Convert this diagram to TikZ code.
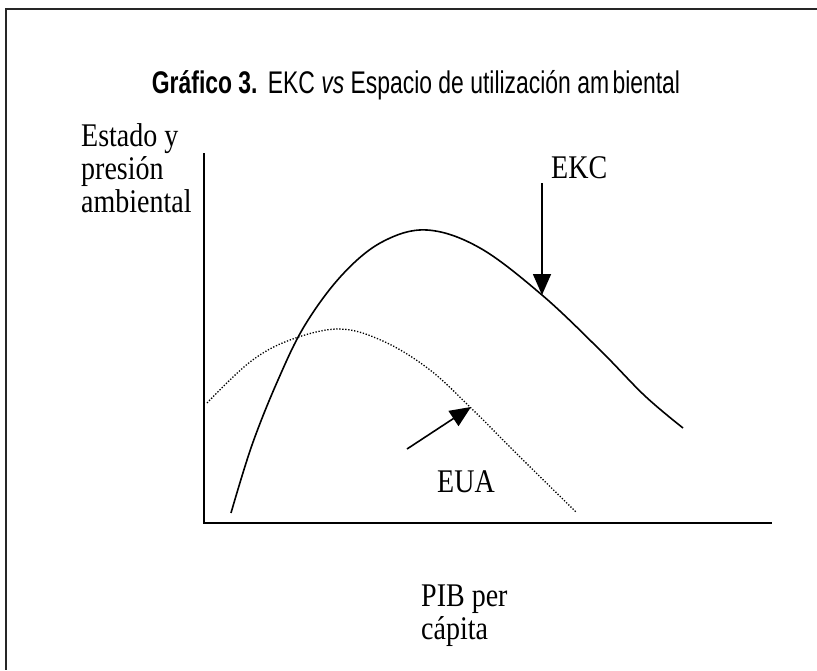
\documentclass[tikz,border=0pt]{standalone}
\usepackage{fontspec}
\setmainfont{Liberation Serif}
\newfontfamily\titlefont{Liberation Sans}
\usetikzlibrary{arrows.meta}
\newcommand{\tall}[1]{\scalebox{1}[1.18]{#1}}
\tikzset{
  frameline/.style={line width=1.6pt, black!85},
  axisline/.style={line width=1.6pt},
  ekcline/.style={line width=1.6pt},
  eualine/.style={line width=1.3pt, dash pattern=on 1.3pt off 1.7pt},
  pointer/.style={line width=1.6pt, -{Triangle[length=21pt,width=18pt]}},
  lbl/.style={inner sep=0pt, font=\fontsize{28}{32}\selectfont},
}
\begin{document}
\begin{tikzpicture}[x=1pt,y=-1pt]
\useasboundingbox (0,0) rectangle (817,670);
% frame (open on right and bottom)
\draw[frameline] (817,9) -- (6,9) -- (6,670);
% title
\node[inner sep=0pt, anchor=base] (title) at (416,93)
  {\scalebox{0.79}[1.08]{\titlefont\fontsize{29}{32}\selectfont\textbf{Gráfico 3.}\hspace{0.45em}EKC \textit{vs} Espacio de utilización am\hspace{0.15em}biental}};
% axes
\coordinate (ytop) at (204,153);
\coordinate (orig) at (204,523);
\coordinate (xend) at (772,523);
\draw[axisline] (ytop) -- (orig) -- (xend);
% axis labels
\node[lbl, anchor=base west] (ylab1) at (81,146) {\tall{Estado y}};
\node[lbl, anchor=base west] (ylab2) at (81,179) {\tall{presión}};
\node[lbl, anchor=base west] (ylab3) at (81,212) {\tall{ambiental}};
\node[lbl, anchor=base west] (xlab1) at (421,606) {\tall{PIB per}};
\node[lbl, anchor=base west] (xlab2) at (421,639) {\tall{cápita}};
% EKC curve
\draw[ekcline] plot[smooth, tension=0.6] coordinates
  {(231,513) (252,445) (278,380) (305,325) (342,275) (382,242) (427,230) (480,248) (542,295) (600,350) (645,396) (683,428)};
% EUA curve
\draw[eualine] plot[smooth, tension=0.6] coordinates
  {(207,403) (250,362) (290,340) (340,329) (385,342) (430,370) (471,408) (518,455) (576,512)};
% labels on curves
\node[lbl, anchor=base west] (ekc) at (551,178) {\tall{EKC}};
\node[lbl, anchor=base west] (eua) at (437,492) {\tall{EUA}};
% pointers
\coordinate (ekctip) at (542,295);
\coordinate (ekctail) at (542,183);
\coordinate (euatip) at (471,407);
\coordinate (euatail) at (407,449);
\draw[pointer] (ekctail) -- (ekctip);
\draw[pointer] (euatail) -- (euatip);
\end{tikzpicture}
\end{document}
